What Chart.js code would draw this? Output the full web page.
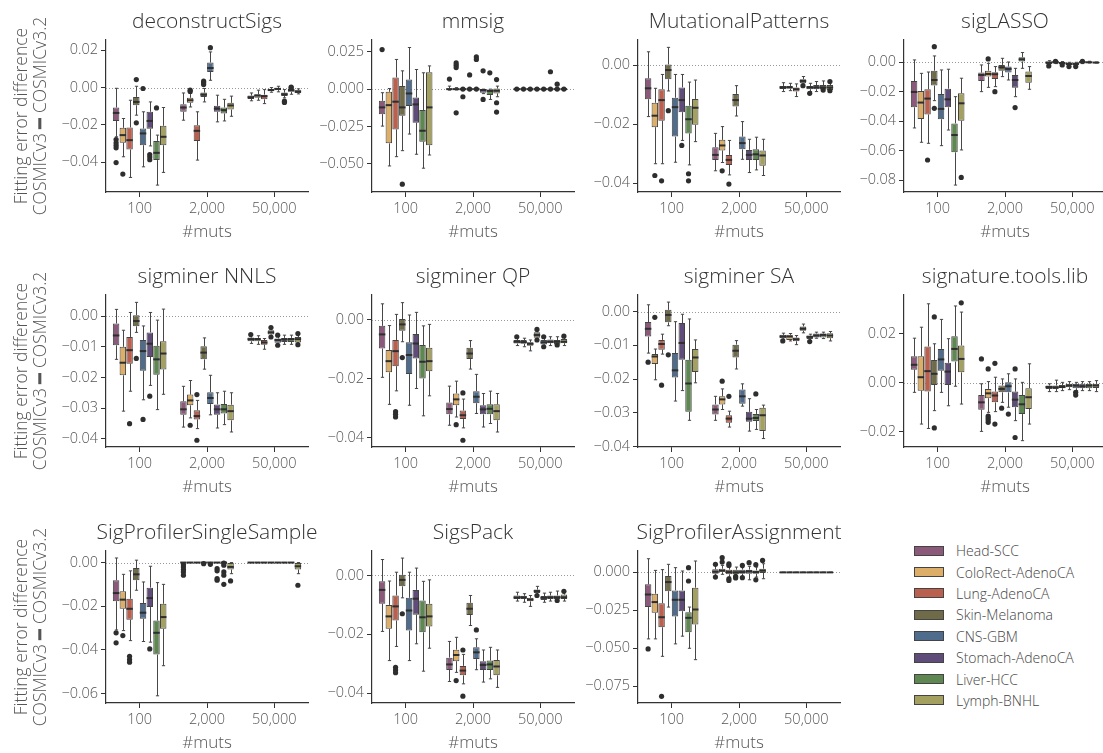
<!DOCTYPE html>
<html>
<head>
<meta charset="utf-8">
<script src="https://cdn.jsdelivr.net/npm/chart.js@4.4.0/dist/chart.umd.min.js"></script>
<style>
    html, body { margin: 0; padding: 0; background: #fff; overflow: hidden; width: 1103px; height: 753px; }
    canvas { position: absolute; }
    #legend { position: absolute; left: 914px; top: 540px; font-family: 'Open Sans', sans-serif; font-weight: 300; font-size: 14px; color: #444; }
    .item { height: 21.4px; display: flex; align-items: center; }
    .patch { width: 30px; height: 10px; border: 1px solid #444; box-sizing: border-box; margin-right: 12px; }
</style>
</head>
<body>
<div id="legend"></div>
<script>
// categories
const muts = ['100', '2,000', '50,000'];
const cancerTypes = ['Head-SCC', 'ColoRect-AdenoCA', 'Lung-AdenoCA', 'Skin-Melanoma', 'CNS-GBM', 'Stomach-AdenoCA', 'Liver-HCC', 'Lymph-BNHL'];

// Each row = one cancer type, each entry = [lower whisker, Q1, median, Q3, upper whisker] at 100 / 2,000 / 50,000 muts
const deconstructSigsBoxes = [
    [[-0.0264, -0.0179, -0.0136, -0.0107, -0.0004], [-0.0175, -0.013, -0.0107, -0.0089, -0.0029], [-0.0071, -0.0061, -0.0052, -0.0043, -0.0029]],
    [[-0.0371, -0.0296, -0.0255, -0.0216, -0.0166], [-0.0104, -0.0082, -0.0068, -0.0055, -0.0032], [-0.0068, -0.0054, -0.0043, -0.0036, -0.0014]],
    [[-0.0482, -0.0332, -0.0282, -0.0214, -0.0068], [-0.0389, -0.0286, -0.0232, -0.0202, -0.013], [-0.0086, -0.0063, -0.0046, -0.0038, -0.0011]],
    [[-0.0148, -0.0095, -0.0077, -0.005, 0.0007], [-0.0077, -0.005, -0.0038, -0.0027, -0.0005], [-0.0025, -0.002, -0.0013, -0.0007, 0]],
    [[-0.0425, -0.0309, -0.0246, -0.022, -0.013], [0.0039, 0.0084, 0.0105, 0.0134, 0.0191], [-0.0023, -0.0014, -0.0007, -0.0002, 0.0007]],
    [[-0.0313, -0.0221, -0.0179, -0.013, -0.0077], [-0.0184, -0.013, -0.0113, -0.0098, -0.0041], [-0.0055, -0.0045, -0.0036, -0.0027, -0.0011]],
    [[-0.0523, -0.0389, -0.035, -0.0286, -0.0255], [-0.0179, -0.0139, -0.0121, -0.0107, -0.0063], [-0.0036, -0.0023, -0.0014, -0.0005, 0.0002]],
    [[-0.0455, -0.0309, -0.0264, -0.0205, -0.0107], [-0.0154, -0.0118, -0.0096, -0.0082, -0.0046], [-0.0034, -0.0029, -0.0021, -0.0014, -0.0007]]
];
const deconstructSigsFliers = [
    [[-0.0279, -0.0296, -0.031, -0.0323, -0.0402], [], []],
    [[-0.0464], [-0.0014, -0.0021], []],
    [[], [], []],
    [[0.0043, -0.0189], [0.0034, 0.0025, 0.0016], []],
    [[-0.0005], [0.0214], []],
    [[-0.0359, -0.0373, -0.0387], [], [-0.0073, -0.008]],
    [[-0.0109], [], [0.0003, -0.0001]],
    [[], [], []]
];

const mmsigBoxes = [
    [[-0.0247, -0.0167, -0.0122, -0.0078, -0.0024], [-0.0007, -0.0003, 0, 0.0003, 0.002], [0, 0, 0, 0, 0]],
    [[-0.0513, -0.0362, -0.0107, -0.0018, 0.0004], [-0.0006, -0.0002, 0, 0.0004, 0.001], [0, 0, 0, 0, 0]],
    [[-0.0451, -0.0269, -0.0084, 0.0078, 0.0198], [0, 0, 0, 0, 0], [0, 0, 0, 0, 0]],
    [[-0.0411, -0.0178, -0.0122, 0.002, 0.0122], [0, 0, 0, 0, 0], [0, 0, 0, 0, 0]],
    [[-0.03, -0.0113, -0.0029, 0.0064, 0.0278], [0, 0, 0, 0, 0], [0, 0, 0, 0, 0]],
    [[-0.0435, -0.0224, -0.0102, -0.0056, 0.0131], [-0.003, -0.0024, -0.0006, 0, 0], [0, 0, 0, 0, 0]],
    [[-0.0528, -0.0351, -0.0278, -0.014, 0.0109], [-0.0069, -0.004, -0.0012, 0, 0], [0, 0, 0, 0, 0]],
    [[-0.044, -0.0375, -0.0122, 0.0113, 0.0155], [-0.0051, -0.0029, -0.0011, 0.0004, 0.002], [0, 0, 0, 0, 0]]
];
const mmsigFliers = [
    [[0.0264], [0.0067], [0]],
    [[], [0.0175, 0.016, 0.0144, -0.0158], [0]],
    [[], [0, -0.0051], [0]],
    [[-0.0635], [0, 0.0095], [0]],
    [[], [0, 0.0215, 0.0198], [0]],
    [[], [0.0122, -0.0069], [0, 0.0116]],
    [[], [0.0109], [0, 0.0033]],
    [[], [0.0064, -0.0091, -0.0153], [0]]
];

const mutationalPatternsBoxes = [
    [[-0.0174, -0.0115, -0.0078, -0.0044, 0.0046], [-0.0358, -0.0321, -0.0304, -0.0278, -0.0231], [-0.0089, -0.008, -0.0075, -0.007, -0.0059]],
    [[-0.0334, -0.021, -0.0171, -0.0127, -0.0078], [-0.033, -0.0289, -0.0272, -0.0253, -0.0208], [-0.0086, -0.0079, -0.0075, -0.007, -0.0061]],
    [[-0.0334, -0.0188, -0.0118, -0.0081, -0.0031], [-0.0372, -0.0338, -0.0321, -0.0304, -0.0255], [-0.0106, -0.0089, -0.0081, -0.0075, -0.0063]],
    [[-0.0087, -0.0047, -0.0016, 0.0003, 0.0061], [-0.0172, -0.014, -0.0118, -0.0097, -0.0069], [-0.0064, -0.0061, -0.0053, -0.0047, -0.0038]],
    [[-0.0329, -0.0242, -0.0142, -0.011, -0.0031], [-0.0319, -0.0285, -0.0264, -0.0242, -0.0191], [-0.0089, -0.0081, -0.0075, -0.007, -0.0061]],
    [[-0.0255, -0.0159, -0.0118, -0.0075, -0.0031], [-0.0364, -0.0321, -0.0304, -0.0287, -0.0251], [-0.0089, -0.0081, -0.0075, -0.0067, -0.0055]],
    [[-0.0338, -0.0231, -0.0183, -0.0137, -0.0057], [-0.0355, -0.0321, -0.0302, -0.0285, -0.0244], [-0.0089, -0.0082, -0.0075, -0.0067, -0.0053]],
    [[-0.0259, -0.0202, -0.0144, -0.0114, -0.005], [-0.0374, -0.0341, -0.0306, -0.0289, -0.0251], [-0.0089, -0.0084, -0.0075, -0.0067, -0.0053]]
];
const mutationalPatternsFliers = [
    [[], [], []],
    [[-0.0374], [-0.0358], []],
    [[-0.0392], [-0.0403], []],
    [[-0.0154], [], [-0.0069]],
    [[], [], [-0.0095]],
    [[-0.0272], [], []],
    [[-0.0368, -0.0392], [], [-0.0084]],
    [[], [], [-0.0055, -0.0086]]
];

const sigLassoBoxes = [
    [[-0.0445, -0.0305, -0.0201, -0.0127, 0.0016], [-0.0199, -0.0127, -0.0086, -0.007, -0.0018], [-0.0018, -0.0011, -0.0002, 0.0005, 0.0011]],
    [[-0.0542, -0.0384, -0.0273, -0.0194, -0.0075], [-0.017, -0.0097, -0.0079, -0.0057, -0.0007], [-0.0009, -0.0007, 0, 0.0009, 0.0011]],
    [[-0.0549, -0.0353, -0.0246, -0.0183, -0.0066], [-0.0165, -0.0113, -0.0081, -0.0068, -0.0029], [-0.0014, -0.0013, -0.0005, 0, 0.0005]],
    [[-0.026, -0.0158, -0.012, -0.0057, 0.0043], [-0.0097, -0.0057, -0.0034, -0.0018, 0.0027], [-0.0029, -0.0018, -0.0011, -0.0002, 0]],
    [[-0.0565, -0.0386, -0.0316, -0.0215, -0.0052], [-0.012, -0.007, -0.0045, -0.0029, 0.0002], [-0.0032, -0.002, -0.0011, -0.0002, 0]],
    [[-0.0459, -0.0305, -0.0251, -0.0179, -0.0047], [-0.0233, -0.0172, -0.012, -0.0086, -0.0041], [-0.0009, -0.0005, 0, 0.0009, 0.0011]],
    [[-0.0832, -0.061, -0.0493, -0.0414, -0.0233], [-0.0041, 0.0005, 0.002, 0.0034, 0.0066], [-0.0005, -0.0002, 0, 0.0004, 0.0007]],
    [[-0.0594, -0.0396, -0.0278, -0.021, -0.0108], [-0.0183, -0.0138, -0.0093, -0.0063, -0.0029], [-0.0005, -0.0004, -0.0002, 0, 0.0002]]
];
const sigLassoFliers = [
    [[], [], [-0.0025]],
    [[], [0.0023], [0.0007]],
    [[-0.0662], [-0.0199], [-0.0018]],
    [[0.0106, -0.0312], [], [-0.0029]],
    [[], [], [-0.0029]],
    [[], [-0.0307], [0.0007]],
    [[], [], []],
    [[-0.078], [], []]
];

const nnlsBoxes = [
    [[-0.0141, -0.0095, -0.0063, -0.0024, 0.0022], [-0.0362, -0.0322, -0.0304, -0.0278, -0.0229], [-0.0089, -0.0082, -0.0075, -0.007, -0.0062]],
    [[-0.031, -0.0193, -0.0152, -0.01, -0.0046], [-0.0332, -0.0291, -0.0275, -0.0256, -0.021], [-0.0092, -0.0082, -0.0075, -0.0071, -0.0064]],
    [[-0.0245, -0.0155, -0.0111, -0.0068, 0.0012], [-0.0367, -0.0337, -0.0326, -0.0307, -0.0275], [-0.0108, -0.0093, -0.0086, -0.0078, -0.0073]],
    [[-0.0053, -0.0033, -0.0016, 0.0003, 0.0045], [-0.0173, -0.0141, -0.0119, -0.0098, -0.0071], [-0.0066, -0.006, -0.0053, -0.0046, -0.0038]],
    [[-0.0273, -0.0178, -0.0114, -0.0078, -0.0032], [-0.0322, -0.0287, -0.0267, -0.0248, -0.0193], [-0.0092, -0.0087, -0.0078, -0.0073, -0.0062]],
    [[-0.0226, -0.0133, -0.009, -0.0053, 0.0012], [-0.0365, -0.0322, -0.0304, -0.0288, -0.025], [-0.0092, -0.0084, -0.0076, -0.0071, -0.0062]],
    [[-0.0305, -0.0191, -0.0141, -0.0097, -0.0013], [-0.0354, -0.0318, -0.0304, -0.0287, -0.0245], [-0.0092, -0.0084, -0.0075, -0.0071, -0.0062]],
    [[-0.0255, -0.0174, -0.0122, -0.0082, 0.0023], [-0.0378, -0.034, -0.031, -0.0289, -0.025], [-0.0095, -0.0086, -0.0075, -0.0068, -0.006]]
];
const nnlsFliers = [
    [[], [], [-0.006]],
    [[], [-0.0356], []],
    [[-0.0351], [-0.0256, -0.0405], []],
    [[-0.0138], [], [-0.0037, -0.0068]],
    [[-0.0337], [], [-0.0062, -0.0095]],
    [[-0.0261], [], []],
    [[], [], []],
    [[], [], [-0.0057, -0.0093]]
];

const qpBoxes = [
    [[-0.0195, -0.0097, -0.0049, -0.002, 0.0055], [-0.0358, -0.0321, -0.0303, -0.0281, -0.0225], [-0.0087, -0.008, -0.0074, -0.0068, -0.006]],
    [[-0.0287, -0.0178, -0.014, -0.0102, -0.0019], [-0.033, -0.029, -0.027, -0.025, -0.0208], [-0.0091, -0.0081, -0.0075, -0.0068, -0.0062]],
    [[-0.0241, -0.0157, -0.0106, -0.0068, 0.0019], [-0.0367, -0.0337, -0.0324, -0.0308, -0.0269], [-0.0105, -0.0088, -0.0081, -0.0076, -0.0068]],
    [[-0.0074, -0.0037, -0.0015, 0.0003, 0.0059], [-0.0167, -0.0133, -0.0114, -0.0094, -0.007], [-0.0065, -0.006, -0.0051, -0.0042, -0.0034]],
    [[-0.029, -0.0184, -0.0119, -0.0076, 0.0017], [-0.0318, -0.0283, -0.0261, -0.0242, -0.0185], [-0.0091, -0.0083, -0.0076, -0.0068, -0.0057]],
    [[-0.0233, -0.0131, -0.008, -0.0048, 0.0026], [-0.0364, -0.0321, -0.0304, -0.029, -0.025], [-0.0087, -0.0079, -0.0074, -0.0066, -0.0057]],
    [[-0.0326, -0.0199, -0.0142, -0.0085, -0.002], [-0.0352, -0.0321, -0.0302, -0.0287, -0.0242], [-0.0087, -0.0083, -0.0074, -0.0068, -0.0057]],
    [[-0.0258, -0.0174, -0.014, -0.0094, -0.0015], [-0.0381, -0.0341, -0.031, -0.0287, -0.025], [-0.0087, -0.0079, -0.0074, -0.0065, -0.0053]]
];
const qpFliers = [
    [[], [], [-0.0057]],
    [[], [-0.0356], []],
    [[-0.0312, -0.0321, -0.033], [-0.0248, -0.0409], []],
    [[-0.0128], [], [-0.0032, -0.0068]],
    [[], [], [-0.0057, -0.0091]],
    [[], [], []],
    [[], [], [-0.0085]],
    [[], [], [-0.0055]]
];

const saBoxes = [
    [[-0.0123, -0.0074, -0.0051, -0.0031, 0.002], [-0.0322, -0.0305, -0.029, -0.0275, -0.0251], [-0.0082, -0.0079, -0.0074, -0.0069, -0.0064]],
    [[-0.0202, -0.0155, -0.0133, -0.0126, -0.0111], [-0.029, -0.0275, -0.026, -0.0251, -0.0229], [-0.0087, -0.0084, -0.0074, -0.0069, -0.0065]],
    [[-0.0126, -0.0113, -0.0096, -0.0084, -0.0067], [-0.0342, -0.0329, -0.0317, -0.0307, -0.0295], [-0.0098, -0.0088, -0.0082, -0.0077, -0.0071]],
    [[-0.0042, -0.0032, -0.001, 0.0005, 0.0028], [-0.017, -0.0136, -0.0116, -0.0098, -0.0086], [-0.0063, -0.0057, -0.0051, -0.0044, -0.0037]],
    [[-0.0265, -0.0195, -0.0174, -0.0123, -0.003], [-0.028, -0.0273, -0.0251, -0.0231, -0.0214], [-0.0087, -0.0081, -0.0075, -0.0071, -0.0067]],
    [[-0.0234, -0.0143, -0.0093, -0.0034, -0.0008], [-0.0354, -0.0326, -0.0317, -0.0297, -0.0258], [-0.0079, -0.0077, -0.0071, -0.0065, -0.0061]],
    [[-0.0322, -0.0297, -0.0213, -0.0143, -0.0022], [-0.0349, -0.0324, -0.0315, -0.0303, -0.029], [-0.008, -0.0077, -0.0069, -0.0065, -0.0061]],
    [[-0.0211, -0.0179, -0.0136, -0.0111, -0.0084], [-0.0376, -0.0354, -0.0307, -0.0285, -0.0277], [-0.0087, -0.0079, -0.0071, -0.0064, -0.0059]]
];
const saFliers = [
    [[-0.015], [], [-0.0087]],
    [[-0.0017], [-0.0206], []],
    [[-0.0218], [-0.0251], []],
    [[-0.0128], [], []],
    [[], [], [-0.0089]],
    [[], [], []],
    [[], [-0.0244], []],
    [[], [], []]
];

const stlBoxes = [
    [[-0.004, 0.0053, 0.0073, 0.0108, 0.0182], [-0.02, -0.0111, -0.0081, -0.0051, -0.0005], [-0.0037, -0.0026, -0.0018, -0.0012, -0.0005]],
    [[-0.017, -0.0033, 0.0022, 0.0108, 0.0227], [-0.0122, -0.0064, -0.0044, -0.0026, 0.0004], [-0.0037, -0.0026, -0.0019, -0.0012, 0.001]],
    [[-0.0188, -0.0037, 0.0047, 0.0148, 0.0323], [-0.0119, -0.0081, -0.0053, -0.0037, 0.0022], [-0.0033, -0.0023, -0.0018, -0.001, 0.0001]],
    [[-0.0115, -0.001, 0.0036, 0.0093, 0.0159], [-0.0081, -0.004, -0.0026, -0.0012, 0.0015], [-0.0029, -0.0019, -0.0012, -0.0005, 0.0004]],
    [[-0.004, 0.0049, 0.0095, 0.0138, 0.0259], [-0.0101, -0.004, -0.0015, 0.0001, 0.0036], [-0.0033, -0.0023, -0.0012, -0.0005, 0.0001]],
    [[-0.0095, -0.001, 0.0045, 0.0081, 0.018], [-0.0156, -0.0101, -0.007, -0.0037, 0.0015], [-0.0033, -0.0023, -0.0015, -0.0005, 0.0004]],
    [[-0.0015, 0.0086, 0.0138, 0.019, 0.0314], [-0.0238, -0.0129, -0.0089, -0.0051, 0.0001], [-0.0033, -0.0023, -0.0012, -0.0005, 0.0004]],
    [[-0.0088, 0.0042, 0.0097, 0.0152, 0.0289], [-0.017, -0.0108, -0.006, -0.0023, 0.0077], [-0.0037, -0.0022, -0.0012, -0.0005, 0.0008]]
];
const stlFliers = [
    [[], [0.0097], []],
    [[], [0.0056, -0.0137, -0.0145, -0.0153, -0.0163], []],
    [[], [0.0079, -0.017], []],
    [[0.0269, -0.0186], [-0.0105], []],
    [[], [-0.0129], [-0.004, -0.0051]],
    [[], [0.0056, -0.0225], []],
    [[], [], []],
    [[0.0327], [], []]
];

const spssBoxes = [
    [[-0.0309, -0.0177, -0.014, -0.0081, 0.0021], [-0.0004, -0.0002, 0, 0, 0], [0, 0, 0, 0, 0]],
    [[-0.0312, -0.0212, -0.017, -0.0132, -0.0054], [0, 0, 0, 0, 0], [0, 0, 0, 0, 0]],
    [[-0.0358, -0.0262, -0.0212, -0.0166, -0.0038], [0, 0, 0, 0, 0], [0, 0, 0, 0, 0]],
    [[-0.0127, -0.0081, -0.0054, -0.0025, 0.0011], [0, 0, 0, 0, 0], [0, 0, 0, 0, 0]],
    [[-0.0362, -0.0258, -0.023, -0.0186, -0.0089], [0, 0, 0, 0, 0], [0, 0, 0, 0, 0]],
    [[-0.0365, -0.0204, -0.0163, -0.0115, -0.0017], [0, 0, 0, 0, 0], [0, 0, 0, 0, 0]],
    [[-0.0611, -0.0422, -0.0322, -0.0266, -0.0092], [0, 0, 0, 0, 0], [0, 0, 0, 0, 0]],
    [[-0.0473, -0.0304, -0.025, -0.0189, -0.01], [-0.0051, -0.0032, -0.002, 0, 0], [-0.0051, -0.0032, -0.0017, 0, 0]]
];
const spssFliers = [
    [[-0.0322, -0.0368], [-0.0009, -0.002, -0.0032, -0.0043, -0.0058], []],
    [[-0.0335], [], []],
    [[-0.043, -0.0445, -0.0457], [], []],
    [[], [-0.0005], []],
    [[], [-0.0008], []],
    [[-0.0396], [-0.0028, -0.0038, -0.0074, -0.0081], []],
    [[], [-0.0002, -0.0012, -0.0043, -0.0058, -0.01], []],
    [[], [-0.0084], [-0.0104]]
];

const sigsPackBoxes = [
    [[-0.019, -0.0096, -0.0049, -0.002, 0.0054], [-0.036, -0.0321, -0.0302, -0.0279, -0.0224], [-0.0087, -0.008, -0.0075, -0.0068, -0.0057]],
    [[-0.0289, -0.0181, -0.0139, -0.01, -0.0019], [-0.0329, -0.0291, -0.027, -0.0252, -0.021], [-0.0091, -0.008, -0.0074, -0.0069, -0.0062]],
    [[-0.0241, -0.0153, -0.0105, -0.0068, 0.0011], [-0.0368, -0.0339, -0.0323, -0.0307, -0.0268], [-0.0105, -0.0088, -0.0082, -0.0076, -0.0068]],
    [[-0.0076, -0.0037, -0.0015, 0.0002, 0.0059], [-0.017, -0.0134, -0.0113, -0.0093, -0.0068], [-0.0065, -0.006, -0.0053, -0.0048, -0.0037]],
    [[-0.0289, -0.0187, -0.0119, -0.0076, 0.0011], [-0.032, -0.0284, -0.0261, -0.0244, -0.0215], [-0.0091, -0.0083, -0.0076, -0.007, -0.006]],
    [[-0.0232, -0.0133, -0.0079, -0.0049, 0.0025], [-0.0362, -0.0321, -0.0304, -0.0291, -0.0253], [-0.0087, -0.008, -0.0074, -0.0068, -0.0057]],
    [[-0.0325, -0.0193, -0.0142, -0.0085, -0.002], [-0.0351, -0.0321, -0.0302, -0.0289, -0.0244], [-0.0087, -0.008, -0.0074, -0.0068, -0.0053]],
    [[-0.0247, -0.0173, -0.0139, -0.0096, -0.0015], [-0.038, -0.0339, -0.0309, -0.0287, -0.0253], [-0.0087, -0.008, -0.0074, -0.0065, -0.0054]]
];
const sigsPackFliers = [
    [[], [], []],
    [[], [-0.0357], []],
    [[-0.0312, -0.0321, -0.033], [-0.0253, -0.041], []],
    [[-0.013], [], [-0.0068]],
    [[], [-0.0185], []],
    [[], [], []],
    [[], [], [-0.0085]],
    [[], [], [-0.0054]]
];

const spaBoxes = [
    [[-0.0439, -0.0229, -0.0146, -0.0079, 0.009], [-0.002, -0.0009, 0.0004, 0.002, 0.0046], [0, 0, 0, 0, 0]],
    [[-0.0439, -0.0267, -0.0196, -0.0141, 0.0013], [-0.0013, 0, 0.0011, 0.0024, 0.0046], [0, 0, 0, 0, 0]],
    [[-0.0554, -0.0362, -0.0296, -0.0203, 0.0018], [-0.0031, -0.0013, 0.0002, 0.0018, 0.004], [0, 0, 0, 0, 0]],
    [[-0.0229, -0.0124, -0.0064, -0.0024, 0.0053], [-0.0031, -0.0013, 0, 0.0018, 0.0035], [0, 0, 0, 0, 0]],
    [[-0.0472, -0.0291, -0.0181, -0.0119, 0.0031], [-0.0026, -0.0009, 0.0002, 0.0018, 0.0031], [0, 0, 0, 0, 0]],
    [[-0.0421, -0.0256, -0.0181, -0.0119, 0.0009], [-0.0049, -0.0009, 0.0007, 0.0018, 0.004], [0, 0, 0, 0, 0]],
    [[-0.0501, -0.0395, -0.03, -0.0263, -0.0229], [-0.0031, -0.0009, 0.0002, 0.0013, 0.0035], [0, 0, 0, 0, 0]],
    [[-0.0576, -0.0344, -0.0245, -0.0101, 0.0075], [-0.0042, -0.0004, 0.0011, 0.0024, 0.0057], [0, 0, 0, 0, 0]]
];
const spaFliers = [
    [[-0.0505], [0.0053, -0.0031], []],
    [[], [0.0097, 0.0068], []],
    [[-0.0818], [0.0057, 0.0046, -0.0042, -0.0053], []],
    [[], [-0.0026, -0.0037], []],
    [[], [0.0046, -0.0035], []],
    [[], [0.0064], []],
    [[0.0031, -0.0057], [0.0051, -0.0049], []],
    [[], [0.0079], []]
];

// y tick labels per panel
const ticks002 = [-0.04, -0.02, 0, 0.02];
const ticksMmsig = [-0.05, -0.025, 0, 0.025];
const ticks004 = [-0.04, -0.02, 0];
const ticksLasso = [-0.08, -0.06, -0.04, -0.02, 0];
const ticks001 = [-0.04, -0.03, -0.02, -0.01, 0];
const ticksStl = [-0.02, 0, 0.02];
const ticksSpss = [-0.06, -0.04, -0.02, 0];
const ticksSpa = [-0.075, -0.05, -0.025, 0];

const typeColors = ['#8b5a7b', '#dcae67', '#b9604f', '#6f6a48', '#4f6c8c', '#5f4c78', '#5f8752', '#a4a060'];

const panels = [
    { title: 'deconstructSigs', boxes: deconstructSigsBoxes, fliers: deconstructSigsFliers, ticks: ticks002, digits: 2, min: -0.056, max: 0.0255, col: 0, row: 0 },
    { title: 'mmsig', boxes: mmsigBoxes, fliers: mmsigFliers, ticks: ticksMmsig, digits: 3, min: -0.0687, max: 0.0328, col: 1, row: 0 },
    { title: 'MutationalPatterns', boxes: mutationalPatternsBoxes, fliers: mutationalPatternsFliers, ticks: ticks004, digits: 2, min: -0.043, max: 0.0086, col: 2, row: 0 },
    { title: 'sigLASSO', boxes: sigLassoBoxes, fliers: sigLassoFliers, ticks: ticksLasso, digits: 2, min: -0.0879, max: 0.0151, col: 3, row: 0 },
    { title: 'sigminer NNLS', boxes: nnlsBoxes, fliers: nnlsFliers, ticks: ticks001, digits: 2, min: -0.0427, max: 0.0069, col: 0, row: 1 },
    { title: 'sigminer QP', boxes: qpBoxes, fliers: qpFliers, ticks: ticks004, digits: 2, min: -0.0432, max: 0.0085, col: 1, row: 1 },
    { title: 'sigminer SA', boxes: saBoxes, fliers: saFliers, ticks: ticks001, digits: 2, min: -0.0401, max: 0.0049, col: 2, row: 1 },
    { title: 'signature.tools.lib', boxes: stlBoxes, fliers: stlFliers, ticks: ticksStl, digits: 2, min: -0.0264, max: 0.0359, col: 3, row: 1 },
    { title: 'SigProfilerSingleSample', boxes: spssBoxes, fliers: spssFliers, ticks: ticksSpss, digits: 2, min: -0.0644, max: 0.0053, col: 0, row: 2 },
    { title: 'SigsPack', boxes: sigsPackBoxes, fliers: sigsPackFliers, ticks: ticks004, digits: 2, min: -0.0433, max: 0.0083, col: 1, row: 2 },
    { title: 'SigProfilerAssignment', boxes: spaBoxes, fliers: spaFliers, ticks: ticksSpa, digits: 3, min: -0.0862, max: 0.0141, col: 2, row: 2 }
];

const colX = [106, 372, 638, 904];
const rowTop = [40, 295, 550.7];

Chart.defaults.font.family = "'Open Sans', sans-serif";
Chart.defaults.font.weight = '300';
Chart.defaults.color = '#555';

// zero line, whiskers, medians, fliers and the panel title
const boxParts = {
    id: 'boxParts',
    beforeDatasetsDraw(chart) {
        const { ctx, chartArea: a, scales: { y } } = chart;
        const zy = Math.round(y.getPixelForValue(0)) + 0.5;
        ctx.save();
        ctx.strokeStyle = '#999';
        ctx.lineWidth = 1;
        ctx.setLineDash([1, 2]);
        ctx.beginPath();
        ctx.moveTo(a.left, zy);
        ctx.lineTo(a.right, zy);
        ctx.stroke();
        ctx.restore();
    },
    afterDatasetsDraw(chart) {
        const { ctx, scales: { y }, chartArea: a } = chart;
        const py = v => y.getPixelForValue(v);
        ctx.save();
        chart.data.datasets.forEach((ds, i) => {
            chart.getDatasetMeta(i).data.forEach((bar, j) => {
                const [lo, q1, med, q3, hi] = ds.stats[j];
                const x = Math.round(bar.x) + 0.5;
                const w = bar.width;
                const cap = w * 0.25;
                ctx.strokeStyle = '#474747';
                ctx.lineWidth = 1;
                ctx.beginPath();
                ctx.moveTo(x, py(q3)); ctx.lineTo(x, py(hi));
                ctx.moveTo(x - cap, py(hi)); ctx.lineTo(x + cap, py(hi));
                ctx.moveTo(x, py(q1)); ctx.lineTo(x, py(lo));
                ctx.moveTo(x - cap, py(lo)); ctx.lineTo(x + cap, py(lo));
                ctx.stroke();
                ctx.strokeStyle = '#2e2e2e';
                ctx.lineWidth = 2;
                ctx.beginPath();
                ctx.moveTo(bar.x - w / 2, py(med));
                ctx.lineTo(bar.x + w / 2, py(med));
                ctx.stroke();
                ctx.fillStyle = '#2e2e2e';
                ds.fliers[j].forEach(v => {
                    ctx.beginPath();
                    ctx.arc(bar.x, py(v), 2.6, 0, Math.PI * 2);
                    ctx.fill();
                });
            });
        });
        // panel title
        ctx.fillStyle = '#333';
        ctx.font = '300 21px "Open Sans", sans-serif';
        ctx.textAlign = 'center';
        ctx.textBaseline = 'middle';
        ctx.fillText(chart.options.plugins.boxParts.title, (a.left + a.right) / 2, a.top - 18);
        ctx.restore();
    }
};

function fmt(v, digits) {
    return Math.abs(v) < 1e-9 ? (0).toFixed(digits) : v.toFixed(digits).replace('-', '\u2212');
}

panels.forEach(p => {
    const canvas = document.createElement('canvas');
    canvas.width = 330;
    canvas.height = 248;
    canvas.style.left = (colX[p.col] - 106) + 'px';
    canvas.style.top = (rowTop[p.row] - 40) + 'px';
    document.body.appendChild(canvas);

    new Chart(canvas, {
        type: 'bar',
        data: {
            labels: muts,
            datasets: cancerTypes.map((name, i) => ({
                label: name,
                data: p.boxes[i].map(b => [b[1], b[3]]),
                stats: p.boxes[i],
                fliers: p.fliers[i],
                backgroundColor: typeColors[i],
                borderColor: '#444',
                borderWidth: 1,
                borderSkipped: false,
                categoryPercentage: 0.8,
                barPercentage: 0.96
            }))
        },
        options: {
            responsive: false,
            animation: false,
            layout: { padding: { top: 40, right: 22, left: 0, bottom: 0 } },
            plugins: {
                legend: { display: false },
                tooltip: { enabled: false },
                boxParts: { title: p.title }
            },
            scales: {
                x: {
                    grid: { display: true, drawOnChartArea: false, offset: false, tickLength: 5, color: '#333' },
                    border: { display: true, color: '#333', width: 1.2 },
                    ticks: { font: { size: 14.5 }, padding: 3, color: '#555' },
                    title: { display: true, text: '#muts', font: { size: 17 }, color: '#555', padding: { top: 0, bottom: 5.8 } },
                    afterFit: s => { s.height = 56; }
                },
                y: {
                    min: p.min,
                    max: p.max,
                    afterBuildTicks: s => { s.ticks = p.ticks.map(v => ({ value: v })); },
                    ticks: { font: { size: 14.5 }, padding: 3, color: '#555', callback: v => fmt(v, p.digits) },
                    grid: { display: true, drawOnChartArea: false, tickLength: 5, color: '#333' },
                    border: { display: true, color: '#333', width: 1.2 },
                    title: {
                        display: p.col === 0,
                        text: ['Fitting error difference', 'COSMICv3 \u2501 COSMICv3.2'],
                        font: { size: 17.5, lineHeight: 1.1 },
                        color: '#555',
                        padding: { top: 12.4, bottom: 0 }
                    },
                    afterFit: s => { s.width = 106; }
                }
            }
        },
        plugins: [boxParts]
    });
});

// legend
const legend = document.getElementById('legend');
cancerTypes.forEach((name, i) => {
    const row = document.createElement('div');
    row.className = 'item';
    const patch = document.createElement('span');
    patch.className = 'patch';
    patch.style.background = typeColors[i];
    row.appendChild(patch);
    row.appendChild(document.createTextNode(name));
    legend.appendChild(row);
});
</script>
</body>
</html>
